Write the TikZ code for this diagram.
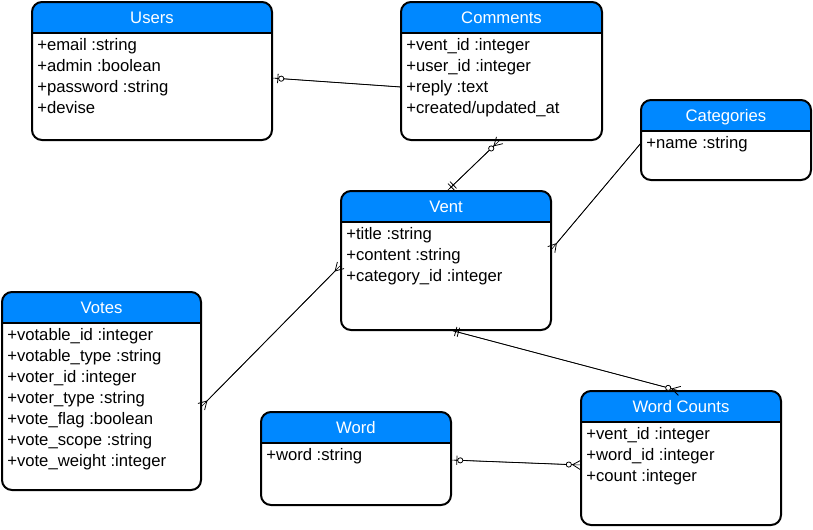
\documentclass[tikz,border=0pt]{standalone}
\usepackage{fontspec}
\setmainfont{Liberation Sans}
\usetikzlibrary{arrows.meta,fit,calc}

\definecolor{hdblue}{RGB}{0,136,255}

\tikzset{
  entbox/.style={inner sep=0pt, outer sep=0pt},
  entline/.style={line width=1.5pt},
  enttitle/.style={text=white, anchor=base, inner sep=0pt, font=\fontsize{12.5}{15}\selectfont},
  entrow/.style={anchor=base west, inner sep=0pt, font=\fontsize{12.5}{15}\selectfont},
  link/.style={line width=0.6pt, preaction={draw, arrows=-}},
  ergap/.tip={Bar[width=0pt,sep=2pt]},
  erbar/.tip={Bar[width=7pt,sep=1.5pt]},
  ercirc/.tip={Circle[open,fill=white,length=4.5pt,sep=0pt]},
  erfoot/.tip={Straight Barb[reversed,length=6pt,width=7pt]},
}

% name, corner, corner, title, rows
\newcommand{\entity}[5]{
  \node[entbox, fit={#2 #3}] (#1) {};
  \begin{scope}
    \clip[rounded corners=7.5pt] (#1.north west) rectangle (#1.south east);
    \fill[hdblue] (#1.north west) rectangle ([yshift=-23.25pt]#1.north east);
  \end{scope}
  \draw[entline] ([yshift=-23.25pt]#1.north west) -- ([yshift=-23.25pt]#1.north east);
  \draw[entline, rounded corners=7.5pt] (#1.north west) rectangle (#1.south east);
  \node[enttitle] at ([yshift=-15.75pt]#1.north) {#4};
  \foreach \row [count=\i] in {#5}
    \node[entrow] at ([xshift=3.75pt, yshift={-(27+21*\i)*0.75pt}]#1.north west) {\row};
}

\begin{document}
\begin{tikzpicture}[x=0.75pt, y=-0.75pt]
  \useasboundingbox (0,0) rectangle (813,529);

  \entity{users}{(32,2)}{(272,140)}{Users}{+email :string, +admin :boolean, +password :string, +devise}
  \entity{comments}{(401,2)}{(602,140)}{Comments}{+vent\_id :integer, +user\_id :integer, +reply :text, +created/updated\_at}
  \entity{categories}{(641,100)}{(811,180)}{Categories}{+name :string}
  \entity{vent}{(341,191)}{(551,330)}{Vent}{+title :string, +content :string, +category\_id :integer}
  \entity{votes}{(2,292)}{(201,490)}{Votes}{+votable\_id :integer, +votable\_type :string, +voter\_id :integer, +voter\_type :string, +vote\_flag :boolean, +vote\_scope :string, +vote\_weight :integer}
  \entity{word}{(261,412)}{(451,505)}{Word}{+word :string}
  \entity{wordcounts}{(581,391)}{(781,525)}{Word Counts}{+vent\_id :integer, +word\_id :integer, +count :integer}

  % relations
  \draw[link, {ergap[] erbar[] ercirc[]}-] ($(users.north east)+(0,76)$) -- ($(comments.north west)+(0,85)$);
  \draw[link, {erfoot[] ercirc[]}-{erbar[] erbar[] ergap[]}] ($(comments.south west)+(99,0)$) -- ($(vent.north west)+(106,0)$);
  \draw[link, -{erfoot[]}] ($(categories.north west)+(0,43)$) -- ($(vent.north east)+(0,59)$);
  \draw[link, {erfoot[]}-{erfoot[]}] ($(votes.north east)+(0,115)$) -- ($(vent.north west)+(0,74)$);
  \draw[link, {ergap[] erbar[] erbar[]}-{ercirc[] erfoot[]}] ($(vent.south west)+(109,0)$) -- ($(wordcounts.north west)+(99,0)$);
  \draw[link, {ergap[] erbar[] ercirc[]}-{ercirc[] erfoot[]}] ($(word.north east)+(0,48)$) -- ($(wordcounts.north west)+(0,74)$);
\end{tikzpicture}
\end{document}
